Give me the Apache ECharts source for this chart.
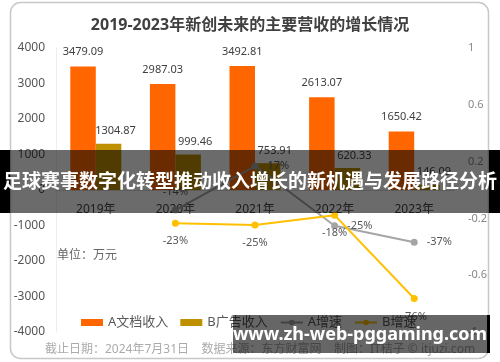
<!DOCTYPE html>
<html>
<head>
<meta charset="utf-8">
<script src="https://cdn.jsdelivr.net/npm/echarts@6/dist/echarts.min.js"></script>
<style>
html,body{margin:0;padding:0;background:#fff;}
#main{width:500px;height:362px;}
</style>
</head>
<body>
<div id="main"></div>
<script>
const categories = ['2019年', '2020年', '2021年', '2022年', '2023年'];
const aIncome = [3479.09, 2987.03, 3492.81, 2613.07, 1650.42];
const bIncome = [1304.87, 999.46, 753.91, 620.33, 146.09];
const aGrowth = ['-', -0.141, 0.169, -0.252, -0.368];
const bGrowth = ['-', -0.234, -0.246, -0.177, -0.764];
const leftTicks = { min: -4000, max: 4000, interval: 1000 };
const rightTicks = { min: -1, max: 1, interval: 0.4 };
const titleText = '2019-2023年新创未来的主要营收的增长情况';
const unitText = '单位：万元';
const footerText = '截止日期：2024年7月31日    数据来源：东方财富网    制图：IT桔子 © itjuzi.com';
const bannerText = '足球赛事数字化转型推动收入增长的新机遇与发展路径分析';
const watermarkText = 'www.zh-web-pggaming.com';

// label placement per A-growth point (style, not data)
const aGrowthLabelPos = ['right', 'top', 'right', 'right', 'right'];

const FONT = "'Noto Sans', 'Noto Sans CJK SC', sans-serif";
const pct = v => Math.round(v * 100) + '%';

const gridTop = 48, gridBottom = 30, H = 362;
const plotH = H - gridTop - gridBottom;
// shift category axis up to the zero line of the left axis
const zeroOffset = -plotH * (0 - leftTicks.min) / (leftTicks.max - leftTicks.min);

const aGrowthData = aGrowth.map((v, i) => ({ value: v, label: { position: aGrowthLabelPos[i] } }));

const chart = echarts.init(document.getElementById('main'), null, { renderer: 'canvas' });
chart.setOption({
  animation: false,
  textStyle: { fontFamily: FONT },
  title: {
    text: titleText, left: 'center', top: 12,
    textStyle: { fontSize: 16, fontWeight: 'bold', color: '#404040', fontFamily: FONT }
  },
  grid: { left: 56, right: 46, top: gridTop, bottom: gridBottom },
  legend: {
    data: [
      { name: 'A文档收入', icon: 'rect' },
      { name: 'B广告收入', icon: 'rect' },
      { name: 'A增速' },
      { name: 'B增速' }
    ],
    left: 76, top: 311, itemWidth: 22, itemHeight: 7, itemGap: 12,
    textStyle: { fontSize: 13, color: '#595959', fontFamily: FONT }
  },
  xAxis: {
    type: 'category', data: categories,
    offset: zeroOffset,
    axisTick: { show: false },
    axisLine: { onZero: false, lineStyle: { color: '#d9d9d9' } },
    axisLabel: { color: '#444', fontSize: 12, margin: 14, fontFamily: FONT }
  },
  yAxis: [
    {
      type: 'value', min: leftTicks.min, max: leftTicks.max, interval: leftTicks.interval,
      splitLine: { show: false },
      axisLine: { show: true, onZero: false, lineStyle: { color: '#eeeeee' } },
      axisTick: { show: false },
      axisLabel: { color: '#555', fontSize: 12, margin: 11, fontFamily: FONT,
        formatter: v => String(v) }
    },
    {
      type: 'value', min: rightTicks.min, max: rightTicks.max, interval: rightTicks.interval,
      splitLine: { show: false },
      axisLine: { show: false, onZero: false },
      axisTick: { show: false },
      axisLabel: { color: '#888', fontSize: 11, margin: 14, fontFamily: FONT,
        formatter: v => String(Math.round(v * 10) / 10) }
    }
  ],
  series: [
    {
      name: 'A文档收入', type: 'bar', data: aIncome, barWidth: 25.5, barGap: '0%',
      itemStyle: { color: '#ff6600' },
      label: { show: true, position: 'top', distance: 9, color: '#404040', fontSize: 11, fontFamily: FONT }
    },
    {
      name: 'B广告收入', type: 'bar', data: bIncome, barWidth: 25.5,
      itemStyle: { color: '#bf9000' },
      label: { show: true, position: 'top', distance: 7, offset: [7, 0], color: '#404040', fontSize: 11, fontFamily: FONT }
    },
    {
      name: 'A增速', type: 'line', yAxisIndex: 1, data: aGrowthData,
      symbol: 'circle', symbolSize: 7,
      lineStyle: { color: '#a5a5a5', width: 2 }, itemStyle: { color: '#a5a5a5' },
      label: { show: true, position: 'right', distance: 9, color: '#595959', fontSize: 11,
        formatter: p => pct(p.value), fontFamily: FONT }
    },
    {
      name: 'B增速', type: 'line', yAxisIndex: 1, data: bGrowth,
      symbol: 'circle', symbolSize: 7,
      lineStyle: { color: '#ffc000', width: 2 }, itemStyle: { color: '#ffc000' },
      label: { show: true, position: 'bottom', distance: 9, color: '#595959', fontSize: 11,
        formatter: p => pct(p.value), fontFamily: FONT }
    }
  ],
  graphic: [
    { type: 'rect', z: -10, silent: true,
      shape: { x: 10.5, y: 2.5, width: 478, height: 356, r: 10 },
      style: { fill: '#fff', stroke: '#c8c8c8', lineWidth: 1.5 } },
    { type: 'text', left: 57, top: 250, z: 5,
      style: { text: unitText, fill: '#666', fontSize: 12, fontFamily: FONT } },
    { type: 'text', left: 45, top: 344, z: 5,
      style: { text: footerText, fill: '#aaa', fontSize: 12, fontFamily: FONT } },
    { type: 'rect', z: 100, silent: true,
      shape: { x: 0, y: 150, width: 500, height: 63 },
      style: { fill: 'rgba(0,0,0,0.58)' } },
    { type: 'rect', z: 100, silent: true,
      shape: { x: 0, y: 150, width: 10, height: 63 }, style: { fill: '#000' } },
    { type: 'rect', z: 100, silent: true,
      shape: { x: 489, y: 150, width: 11, height: 63 }, style: { fill: '#000' } },
    { type: 'text', z: 101, x: 250, y: 183,
      style: { text: bannerText, fill: '#fff', fontSize: 19, fontWeight: 'bold',
        fontFamily: FONT, align: 'center', verticalAlign: 'middle' } },
    { type: 'rect', z: 100, silent: true,
      shape: { x: 233, y: 315, width: 255, height: 38 },
      style: { fill: 'rgba(0,0,0,0.6)' } },
    { type: 'rect', z: 100, silent: true,
      shape: { x: 487, y: 315, width: 3, height: 38 }, style: { fill: '#000' } },
    { type: 'text', z: 101, x: 360, y: 335,
      style: { text: watermarkText, fill: '#fff', fontSize: 18, fontWeight: 'bold',
        fontFamily: FONT, align: 'center', verticalAlign: 'middle' } }
  ]
});
</script>
</body>
</html>
